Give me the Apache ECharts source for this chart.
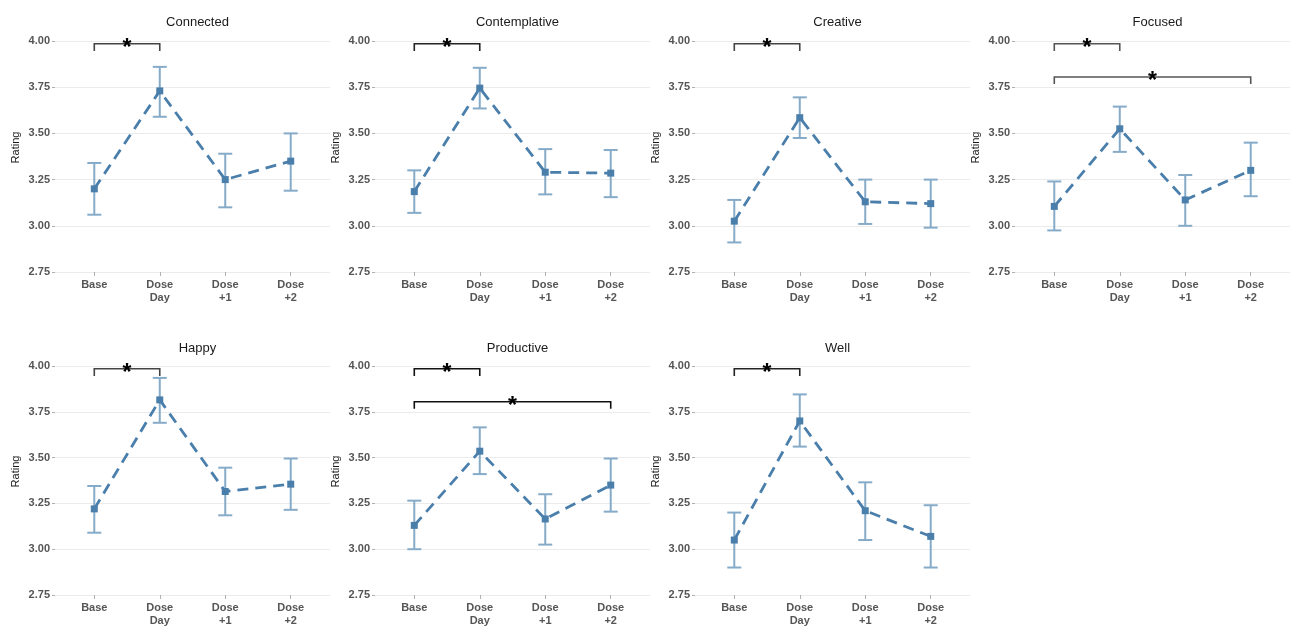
<!DOCTYPE html>
<html>
<head>
<meta charset="utf-8">
<script src="https://cdn.jsdelivr.net/npm/echarts@6/dist/echarts.min.js"></script>
<style>html,body{margin:0;padding:0;background:#fff}#c{width:1291px;height:627px}</style>
</head>
<body>
<div id="c"></div>
<script>
// ---- data ----
const categories = ['Base', 'Dose\nDay', 'Dose\n+1', 'Dose\n+2'];
const panelTitles = ['Connected', 'Contemplative', 'Creative', 'Focused', 'Happy', 'Productive', 'Well'];
const yTicks = [2.75, 3.00, 3.25, 3.50, 3.75, 4.00];

const connectedMean = [3.20, 3.73, 3.25, 3.35];
const connectedLow  = [3.06, 3.59, 3.10, 3.19];
const connectedHigh = [3.34, 3.86, 3.39, 3.50];

const contemplativeMean = [3.185, 3.745, 3.29, 3.285];
const contemplativeLow  = [3.07, 3.635, 3.17, 3.155];
const contemplativeHigh = [3.30, 3.855, 3.415, 3.41];

const creativeMean = [3.025, 3.585, 3.13, 3.12];
const creativeLow  = [2.91, 3.475, 3.01, 2.99];
const creativeHigh = [3.14, 3.695, 3.25, 3.25];

const focusedMean = [3.105, 3.525, 3.14, 3.30];
const focusedLow  = [2.975, 3.40, 3.00, 3.16];
const focusedHigh = [3.24, 3.645, 3.275, 3.45];

const happyMean = [3.22, 3.815, 3.315, 3.355];
const happyLow  = [3.09, 3.69, 3.185, 3.215];
const happyHigh = [3.345, 3.935, 3.445, 3.495];

const productiveMean = [3.13, 3.535, 3.165, 3.35];
const productiveLow  = [3.00, 3.41, 3.025, 3.205];
const productiveHigh = [3.265, 3.665, 3.30, 3.495];

const wellMean = [3.05, 3.70, 3.21, 3.07];
const wellLow  = [2.90, 3.56, 3.05, 2.90];
const wellHigh = [3.20, 3.845, 3.365, 3.24];

// significance brackets: [fromCategory, toCategory, barLevel, legEnd]
const connectedSig = [[1, 2, 3.985, 3.946]];
const contemplativeSig = [[1, 2, 3.985, 3.946]];
const creativeSig = [[1, 2, 3.985, 3.946]];
const focusedSig = [[1, 2, 3.985, 3.946], [1, 4, 3.805, 3.767]];
const happySig = [[1, 2, 3.985, 3.946]];
const productiveSig = [[1, 2, 3.985, 3.946], [1, 4, 3.805, 3.767]];
const wellSig = [[1, 2, 3.985, 3.946]];

const panels = [
  {mean: connectedMean, low: connectedLow, high: connectedHigh, sig: connectedSig, bracket: '#444'},
  {mean: contemplativeMean, low: contemplativeLow, high: contemplativeHigh, sig: contemplativeSig, bracket: '#222'},
  {mean: creativeMean, low: creativeLow, high: creativeHigh, sig: creativeSig, bracket: '#444'},
  {mean: focusedMean, low: focusedLow, high: focusedHigh, sig: focusedSig, bracket: '#555'},
  {mean: happyMean, low: happyLow, high: happyHigh, sig: happySig, bracket: '#444'},
  {mean: productiveMean, low: productiveLow, high: productiveHigh, sig: productiveSig, bracket: '#111'},
  {mean: wellMean, low: wellLow, high: wellHigh, sig: wellSig, bracket: '#222'}
];

// ---- styles ----
const FONT = 'Liberation Sans, Arial, sans-serif';
const LINE_COLOR = '#4a7eab';
const ERR_COLOR = '#86abc9';
const GRID_COLOR = '#ebebeb';

const grids = [], xAxes = [], yAxes = [], series = [], titles = [];
panels.forEach((p, i) => {
  const col = i % 4, row = Math.floor(i / 4);
  const left = 55 + 320 * col;
  const top = row === 0 ? 41 : 366;
  grids.push({left: left, top: top, width: 275, height: 231});
  titles.push({
    text: panelTitles[i], left: left + 137.5, top: row === 0 ? 11 : 337, textAlign: 'center',
    textStyle: {fontFamily: FONT, fontSize: 13, fontWeight: 'normal', color: '#1a1a1a'}
  });
  xAxes.push({
    type: 'value', gridIndex: i, min: 0.4, max: 4.6,
    axisLine: {show: false}, splitLine: {show: false},
    axisTick: {show: true, length: 4, lineStyle: {color: '#b0b0b0'}, customValues: [1, 2, 3, 4]},
    axisLabel: {
      customValues: [1, 2, 3, 4], margin: 6,
      formatter: v => categories[Math.round(v) - 1] || '',
      fontFamily: FONT, fontSize: 11, fontWeight: 'bold', color: '#555', lineHeight: 13
    }
  });
  yAxes.push({
    type: 'value', gridIndex: i, min: 2.75, max: 4.0, interval: 0.25,
    name: 'Rating', nameLocation: 'middle', nameGap: 34, nameRotate: 90,
    nameTextStyle: {fontFamily: FONT, fontSize: 11, color: '#1a1a1a', padding: [0, 0, 0, 18]},
    axisLine: {show: false},
    axisTick: {show: true, length: 3, lineStyle: {color: '#b0b0b0'}},
    splitLine: {show: true, lineStyle: {color: GRID_COLOR, width: 1}},
    axisLabel: {formatter: v => v.toFixed(2), margin: 5, fontFamily: FONT, fontSize: 11, fontWeight: 'bold', color: '#555'}
  });
  // error bars
  series.push({
    type: 'custom', xAxisIndex: i, yAxisIndex: i, z: 2,
    data: p.mean.map((m, k) => [k + 1, p.low[k], p.high[k]]),
    encode: {x: 0, y: [1, 2]},
    renderItem: (params, api) => {
      const x = api.value(0);
      const a = api.coord([x, api.value(1)]);
      const b = api.coord([x, api.value(2)]);
      const hw = 7;
      const st = {stroke: ERR_COLOR, lineWidth: 2};
      return {type: 'group', children: [
        {type: 'line', shape: {x1: a[0], y1: a[1], x2: b[0], y2: b[1]}, style: st},
        {type: 'line', shape: {x1: a[0] - hw, y1: a[1], x2: a[0] + hw, y2: a[1]}, style: st},
        {type: 'line', shape: {x1: b[0] - hw, y1: b[1], x2: b[0] + hw, y2: b[1]}, style: st}
      ]};
    }
  });
  // mean line with points
  series.push({
    type: 'line', xAxisIndex: i, yAxisIndex: i, z: 3,
    data: p.mean.map((m, k) => [k + 1, m]),
    symbol: 'rect', symbolSize: 7, showSymbol: true,
    lineStyle: {color: LINE_COLOR, width: 2.8, type: [11, 7]},
    itemStyle: {color: LINE_COLOR},
    emphasis: {disabled: true}, animation: false
  });
  // significance brackets
  const bc = p.bracket;
  series.push({
    type: 'custom', xAxisIndex: i, yAxisIndex: i, z: 4,
    data: p.sig,
    encode: {x: [0, 1], y: [2, 3]},
    renderItem: (params, api) => {
      const x1 = api.value(0), x2 = api.value(1), yb = api.value(2), yl = api.value(3);
      const p1 = api.coord([x1, yl]), p2 = api.coord([x1, yb]);
      const p3 = api.coord([x2, yb]), p4 = api.coord([x2, yl]);
      return {type: 'group', children: [
        {type: 'polyline', shape: {points: [p1, p2, p3, p4]}, style: {stroke: bc, lineWidth: 1.6, fill: null}},
        {type: 'text', style: {text: '*', x: (p2[0] + p3[0]) / 2, y: p2[1] + 5, fill: '#000',
          font: 'bold 23px ' + FONT, textAlign: 'center', textVerticalAlign: 'middle'}}
      ]};
    }
  });
});

const chart = echarts.init(document.getElementById('c'), null, {renderer: 'canvas'});
chart.setOption({
  animation: false,
  backgroundColor: '#fff',
  title: titles,
  grid: grids,
  xAxis: xAxes,
  yAxis: yAxes,
  series: series
});
</script>
</body>
</html>
